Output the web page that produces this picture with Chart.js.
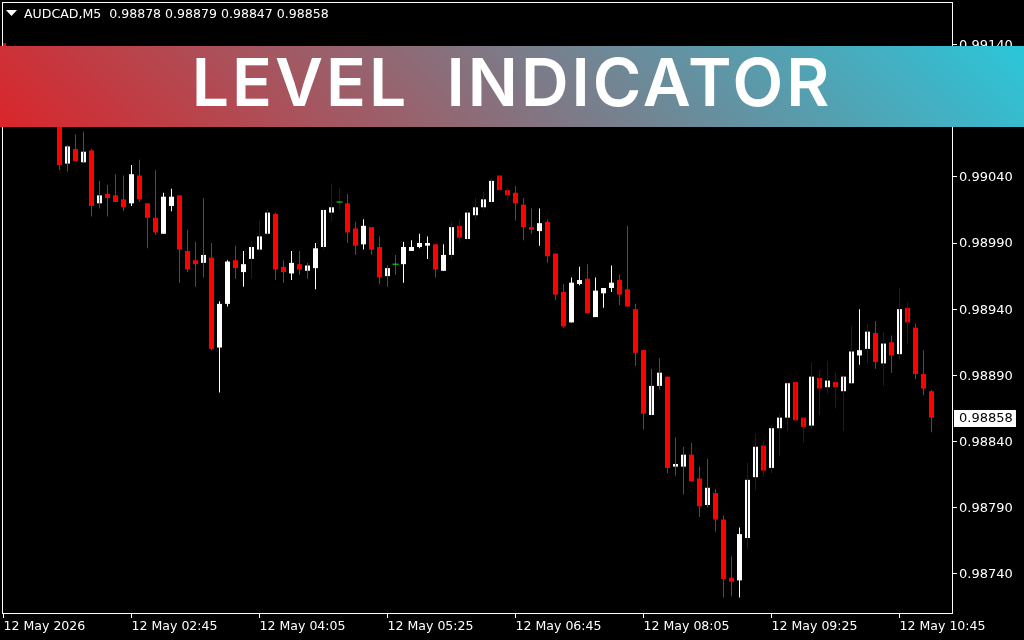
<!DOCTYPE html>
<html>
<head>
<meta charset="utf-8">
<title>Level Indicator</title>
<script src="https://cdn.jsdelivr.net/npm/chart.js@4/dist/chart.umd.min.js"></script>
<style>
    html, body { margin: 0; padding: 0; background: #000; width: 1024px; height: 640px; overflow: hidden; }
    #mainChart { position: absolute; left: 0; top: 0; }
    #banner {
        position: absolute; left: 0; top: 46px; width: 1024px; height: 81px;
        background: linear-gradient(45deg, #da252b, #2bc6da);
        color: #fff; font-family: Inter, sans-serif; font-weight: 600; font-size: 66px;
        line-height: 72px; text-align: center; white-space: pre; letter-spacing: 3px; word-spacing: -1px;
    }
</style>
</head>
<body>
<canvas id="mainChart" width="1024" height="640"></canvas>
<div id="banner">LEVEL  INDICATOR</div>
<script>
// AUDCAD M5 candles (the first seven sit behind the banner, estimated)
const opens = [
    0.99141,0.99128,0.99118,0.99122,0.99109,0.99099,0.99102,0.99086,0.99050,0.99061,
    0.99051,0.99060,0.99020,0.99027,0.99026,0.99023,0.99020,0.99041,0.99020,0.99009,
    0.98997,0.99018,0.99026,0.98984,0.98977,0.98975,0.98979,0.98911,0.98944,0.98977,
    0.98968,0.98978,0.98985,0.98997,0.99012,0.98972,0.98967,0.98974,0.98969,0.98971,
    0.98987,0.99013,0.99021,0.99020,0.99001,0.98989,0.99002,0.98987,0.98965,0.98974,
    0.98974,0.98984,0.98987,0.98988,0.98989,0.98969,0.98981,0.99003,0.98993,0.99011,
    0.99017,0.99021,0.99041,0.99030,0.99028,0.99019,0.99002,0.98999,0.99006,0.98982,
    0.98953,0.98930,0.98959,0.98963,0.98934,0.98952,0.98956,0.98962,0.98955,0.98940,
    0.98909,0.98860,0.98882,0.98889,0.98821,0.98821,0.98830,0.98812,0.98792,0.98801,
    0.98781,0.98737,0.98735,0.98767,0.98813,0.98837,0.98820,0.98850,0.98858,0.98885,
    0.98858,0.98852,0.98888,0.98881,0.98885,0.98878,0.98884,0.98905,0.98910,0.98922,
    0.98899,0.98915,0.98906,0.98941,0.98926,0.98891,0.98878
];
const highs = [
    0.99141,0.99133,0.99127,0.99125,0.99113,0.99110,0.99106,0.99091,0.99064,0.99072,
    0.99074,0.99061,0.99037,0.99034,0.99042,0.99041,0.99049,0.99053,0.99020,0.99045,
    0.99028,0.99031,0.99026,0.99000,0.98991,0.99024,0.98990,0.98946,0.98977,0.98988,
    0.98984,0.98991,0.99007,0.99016,0.99013,0.98977,0.98984,0.98984,0.98975,0.98990,
    0.99015,0.99035,0.99032,0.99027,0.99006,0.99008,0.99002,0.98995,0.98973,0.98981,
    0.98991,0.98992,0.98997,0.98995,0.98989,0.98989,0.99006,0.99008,0.99014,0.99024,
    0.99029,0.99039,0.99041,0.99032,0.99033,0.99024,0.99016,0.99016,0.99008,0.98982,
    0.98959,0.98964,0.98972,0.98974,0.98964,0.98956,0.98973,0.98966,0.99003,0.98944,
    0.98909,0.98895,0.98903,0.98889,0.98843,0.98836,0.98839,0.98821,0.98827,0.98804,
    0.98784,0.98753,0.98775,0.98824,0.98846,0.98840,0.98852,0.98861,0.98884,0.98885,
    0.98858,0.98900,0.98894,0.98901,0.98892,0.98889,0.98927,0.98940,0.98929,0.98931,
    0.98923,0.98920,0.98956,0.98945,0.98929,0.98909,0.98879
];
const lows = [
    0.99124,0.99116,0.99113,0.99106,0.99097,0.99095,0.99081,0.99045,0.99044,0.99052,
    0.99051,0.99010,0.99016,0.99010,0.99021,0.99014,0.99018,0.99021,0.98986,0.98996,
    0.98997,0.99014,0.98960,0.98968,0.98957,0.98964,0.98909,0.98877,0.98942,0.98963,
    0.98957,0.98963,0.98984,0.98996,0.98962,0.98960,0.98962,0.98966,0.98963,0.98955,
    0.98985,0.99006,0.99015,0.98990,0.98981,0.98985,0.98981,0.98959,0.98957,0.98966,
    0.98960,0.98984,0.98986,0.98978,0.98964,0.98969,0.98978,0.98991,0.98993,0.99007,
    0.99015,0.99020,0.99030,0.99022,0.99007,0.98992,0.98997,0.98988,0.98975,0.98947,
    0.98926,0.98930,0.98958,0.98937,0.98934,0.98941,0.98953,0.98943,0.98942,0.98897,
    0.98849,0.98860,0.98879,0.98816,0.98814,0.98800,0.98810,0.98783,0.98790,0.98772,
    0.98722,0.98723,0.98722,0.98759,0.98803,0.98814,0.98816,0.98829,0.98848,0.98856,
    0.98839,0.98849,0.98860,0.98876,0.98865,0.98848,0.98884,0.98898,0.98899,0.98895,
    0.98882,0.98892,0.98902,0.98914,0.98887,0.98875,0.98847
];
const closes = [
    0.99127,0.99119,0.99124,0.99109,0.99100,0.99106,0.99085,0.99049,0.99063,0.99052,
    0.99059,0.99018,0.99026,0.99024,0.99021,0.99017,0.99042,0.99023,0.99009,0.98998,
    0.99025,0.99025,0.98985,0.98970,0.98974,0.98981,0.98910,0.98944,0.98976,0.98971,
    0.98974,0.98987,0.98995,0.99013,0.98970,0.98968,0.98975,0.98970,0.98973,0.98986,
    0.99015,0.99017,0.99021,0.98998,0.98988,0.99003,0.98985,0.98964,0.98971,0.98974,
    0.98987,0.98987,0.98990,0.98990,0.98970,0.98981,0.99002,0.98994,0.99013,0.99017,
    0.99023,0.99037,0.99030,0.99026,0.99020,0.99002,0.99000,0.99005,0.98980,0.98951,
    0.98927,0.98960,0.98962,0.98937,0.98954,0.98956,0.98960,0.98951,0.98942,0.98907,
    0.98861,0.98882,0.98892,0.98820,0.98823,0.98830,0.98810,0.98791,0.98805,0.98781,
    0.98736,0.98734,0.98770,0.98811,0.98836,0.98818,0.98850,0.98858,0.98884,0.98856,
    0.98851,0.98889,0.98880,0.98886,0.98881,0.98889,0.98908,0.98909,0.98923,0.98900,
    0.98914,0.98905,0.98940,0.98930,0.98891,0.98880,0.98858
];
// wick colour per candle: r red, w white, b blue
const wickKinds = [
    'r','r','r','r','r','r','r','r','r','r',
    'r','r','r','r','r','r','w','r','r','r',
    'w','w','r','r','r','r','r','w','w','r',
    'w','b','b','b','r','r','w','r','r','w',
    'b','b','b','r','r','w','r','r','r','r',
    'w','w','w','w','r','w','b','b','b','b',
    'b','b','b','b','r','r','r','w','r','r',
    'r','w','w','r','w','w','w','r','r','r',
    'r','r','r','r','r','r','r','r','r','r',
    'r','r','w','b','b','b','b','b','b','b',
    'b','b','b','b','b','b','b','w','b','r',
    'b','r','b','b','r','r','r'
];
const tickBars = [0, 16, 32, 48, 64, 80, 96, 112];
const tickLabels = ['12 May 2026', '12 May 02:45', '12 May 04:05', '12 May 05:25',
    '12 May 06:45', '12 May 08:05', '12 May 09:25', '12 May 10:45'];
const priceTicks = [0.99140, 0.99090, 0.99040, 0.98990, 0.98940, 0.98890, 0.98840, 0.98790, 0.98740];
const symbolLabel = 'AUDCAD,M5';

const wickColors = { r: '#ff0000', w: '#ffffff', b: '#0000ff' };

// Frame, header line and the current price box
const terminalPlugin = {
    id: 'terminal',
    afterDraw(chart) {
        const ctx = chart.ctx;
        const last = opens.length - 1;
        ctx.save();
        ctx.strokeStyle = '#fff';
        ctx.lineWidth = 1;
        ctx.strokeRect(2.5, 2.5, 950, 611);

        ctx.fillStyle = '#fff';
        ctx.beginPath();
        ctx.moveTo(6, 10);
        ctx.lineTo(17, 10);
        ctx.lineTo(11.5, 16);
        ctx.closePath();
        ctx.fill();

        ctx.font = '12.55px "DejaVu Sans"';
        ctx.textBaseline = 'middle';
        const ohlc = [opens[last], highs[last], lows[last], closes[last]].map(v => v.toFixed(5)).join(' ');
        ctx.fillText(`${symbolLabel}  ${ohlc}`, 24, 15);

        const y = Math.round(chart.scales.y.getPixelForValue(closes[last]));
        ctx.fillRect(954, y - 8, 62, 17);
        ctx.fillStyle = '#000';
        ctx.font = '13px "DejaVu Sans"';
        ctx.fillText(closes[last].toFixed(5), 959, y + 1);
        ctx.restore();
    }
};

const ctx = document.getElementById('mainChart').getContext('2d');

new Chart(ctx, {
    type: 'bar',
    data: {
        datasets: [
            {
                // dojis get a green dash
                type: 'line',
                order: 0,
                showLine: false,
                data: opens.map((o, i) => ({ x: i, y: o })).filter(p => p.y === closes[p.x]),
                pointStyle: 'line',
                pointRadius: 3,
                pointBorderWidth: 1,
                pointBorderColor: '#00ff00'
            },
            {
                order: 1,
                grouped: false,
                barThickness: 1,
                inflateAmount: 0,
                data: opens.map((o, i) => ({ x: i, y: [lows[i], highs[i]] })),
                backgroundColor: wickKinds.map(k => wickColors[k])
            },
            {
                order: 2,
                grouped: false,
                barThickness: 5,
                inflateAmount: 0,
                data: opens.map((o, i) => ({ x: i, y: [o, closes[i]] })),
                backgroundColor: opens.map((o, i) => (closes[i] >= o ? '#ffffff' : '#ff0000'))
            }
        ]
    },
    options: {
        responsive: false,
        animation: false,
        layout: { autoPadding: false, padding: { left: 3, top: 3, right: 0, bottom: 0 } },
        plugins: { legend: { display: false }, tooltip: { enabled: false } },
        scales: {
            x: {
                type: 'linear',
                offset: false,
                min: -0.0625,
                max: 118.6875,
                afterBuildTicks: scale => { scale.ticks = tickBars.map(v => ({ value: v })); },
                afterFit: scale => { scale.height = 26; scale.paddingLeft = 0; scale.paddingRight = 0; },
                border: { display: false },
                grid: { offset: false, drawOnChartArea: false, tickLength: 4, tickColor: '#fff' },
                ticks: {
                    autoSkip: false,
                    maxRotation: 0,
                    align: 'start',
                    padding: 1,
                    color: '#fff',
                    font: { family: 'DejaVu Sans', size: 12.55 },
                    callback: v => tickLabels[tickBars.indexOf(v)]
                }
            },
            y: {
                position: 'right',
                min: 0.987096,
                max: 0.991714,
                afterBuildTicks: scale => { scale.ticks = priceTicks.map(v => ({ value: v })); },
                afterFit: scale => { scale.width = 71; scale.paddingTop = 0; scale.paddingBottom = 0; },
                border: { display: false },
                grid: { offset: false, drawOnChartArea: false, tickLength: 4, tickColor: '#fff' },
                ticks: {
                    padding: 2,
                    labelOffset: 1,
                    color: '#fff',
                    font: { family: 'DejaVu Sans', size: 13 },
                    callback: v => v.toFixed(5)
                }
            }
        }
    },
    plugins: [terminalPlugin]
});
</script>
</body>
</html>
